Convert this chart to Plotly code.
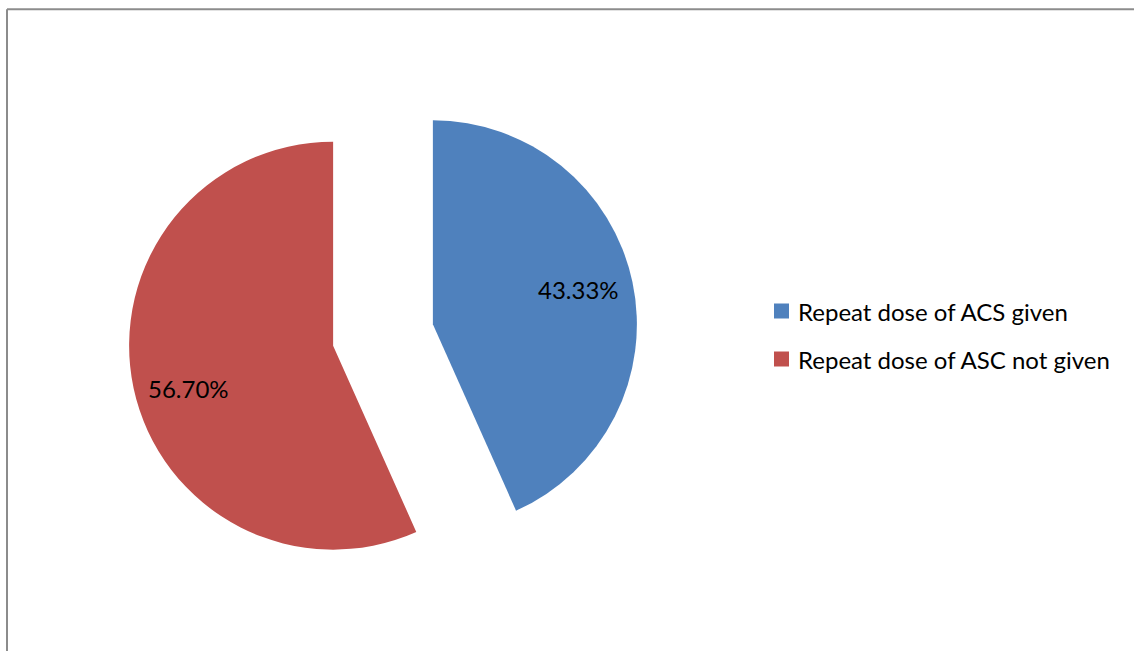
import plotly.graph_objects as go

# Share of cases by repeat antenatal corticosteroid dose
labels = ["Repeat dose of ACS given", "Repeat dose of ASC not given"]
values = [43.33, 56.70]
colors = ["#4F81BD", "#C0504D"]

W, H = 1134, 651
FONT = "Lato"
FSIZE = 24

fig = go.Figure()
fig.add_trace(go.Pie(
    labels=labels,
    values=values,
    sort=False,
    direction="clockwise",
    rotation=0,
    pull=[0.25, 0.25],
    marker=dict(colors=colors, line=dict(width=0)),
    textinfo="none",
    domain=dict(x=[128 / W, 638 / W], y=[1 - 590 / H, 1 - 80 / H]),
    showlegend=False,
    hoverinfo="label+value",
))

shapes = []
annotations = []

# Percentage labels inside each slice
label_pos = [(578, 290), (188, 388)]
for v, (px, py) in zip(values, label_pos):
    annotations.append(dict(xref="paper", yref="paper", x=px / W, y=1 - py / H,
                            xanchor="center", yanchor="middle", showarrow=False,
                            text=f"{v:.2f}%",
                            font=dict(family=FONT, size=FSIZE, color="#000000")))

# Legend drawn as colour swatches with text beside them
legend_y = [311, 359]
for lab, col, yc in zip(labels, colors, legend_y):
    shapes.append(dict(type="rect", xref="paper", yref="paper",
                       x0=774 / W, x1=789 / W,
                       y0=1 - (yc + 7.5) / H, y1=1 - (yc - 7.5) / H,
                       fillcolor=col, line=dict(width=0)))
    annotations.append(dict(xref="paper", yref="paper", x=796 / W, y=1 - yc / H,
                            xanchor="left", yanchor="middle", showarrow=False,
                            text=lab, font=dict(family=FONT, size=FSIZE, color="#000000")))

# Chart frame: left and top edges (the rest lies outside the view)
frame = dict(color="#8C8C8C", width=2)
shapes.append(dict(type="line", xref="paper", yref="paper",
                   x0=7 / W, x1=7 / W, y0=-0.1, y1=1 - 9.3 / H, line=frame))
shapes.append(dict(type="line", xref="paper", yref="paper",
                   x0=7 / W, x1=1.1, y0=1 - 9.3 / H, y1=1 - 9.3 / H, line=frame))

fig.update_layout(
    width=W, height=H,
    margin=dict(l=0, r=0, t=0, b=0),
    paper_bgcolor="#FFFFFF",
    plot_bgcolor="#FFFFFF",
    shapes=shapes,
    annotations=annotations,
)

fig.write_html("out.html")
